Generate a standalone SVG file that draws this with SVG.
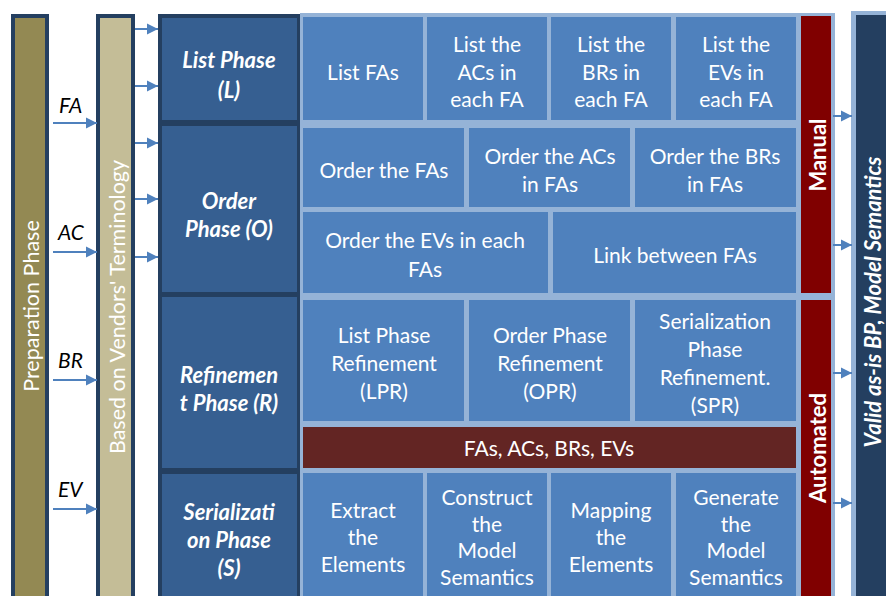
<svg xmlns="http://www.w3.org/2000/svg" width="886" height="596" viewBox="0 0 886 596">
<defs>
<style>
text{font-family:Lato,"Liberation Sans",sans-serif;}
.cell{fill:#4f81bd;}
.ct{font-size:21px;fill:#ffffff;text-anchor:middle;}
.ph{fill:#365f91;}
.pt{font-size:22px;fill:#ffffff;text-anchor:middle;font-weight:bold;font-style:italic;}
.dark{fill:#243f60;}
.light{fill:#95b3d7;}
.red{fill:#800000;}
.vt{font-size:21.5px;fill:#ffffff;text-anchor:middle;dominant-baseline:central;}
.vb{font-size:22px;fill:#ffffff;text-anchor:middle;dominant-baseline:central;font-weight:bold;}
.lab{font-size:21px;fill:#000000;font-style:italic;}
.conn line{stroke:#4f81bd;stroke-width:2;marker-end:url(#ah);}
</style>
<marker id="ah" viewBox="0 0 10 10" refX="10" refY="5" markerWidth="11" markerHeight="12" markerUnits="userSpaceOnUse" orient="auto">
<path d="M0,0 L10,5 L0,10 z" fill="#4f81bd"/>
</marker>
</defs>
<rect width="886" height="596" fill="#ffffff"/>

<g id="preparation">
<rect class="dark" x="11" y="14" width="38" height="590"/>
<rect x="15" y="18" width="30" height="590" fill="#938953"/>
<text class="vt" transform="translate(31,306) rotate(-90)">Preparation Phase</text>
</g>

<g id="vendors">
<rect class="dark" x="96" y="14" width="39" height="590"/>
<rect x="100" y="18" width="31" height="590" fill="#c4bd97"/>
<text class="vt" transform="translate(117,307) rotate(-90)">Based on Vendors' Terminology</text>
</g>

<g id="labels">
<text class="lab" x="59" y="113">FA</text>
<text class="lab" x="58" y="240">AC</text>
<text class="lab" x="58" y="368">BR</text>
<text class="lab" x="58" y="497">EV</text>
</g>

<g id="phases">
<rect class="dark" x="158" y="14" width="142" height="590"/>
<g id="list-phase">
<rect class="ph" x="162" y="18" width="135" height="102"/>
<text class="pt" x="229" y="68">List Phase</text>
<text class="pt" x="229" y="98">(L)</text>
</g>
<g id="order-phase">
<rect class="ph" x="162" y="126" width="135" height="166"/>
<text class="pt" x="229" y="209">Order</text>
<text class="pt" x="229" y="237">Phase (O)</text>
</g>
<g id="refinement-phase">
<rect class="ph" x="162" y="297" width="135" height="171"/>
<text class="pt" x="229" y="383">Refinemen</text>
<text class="pt" x="229" y="411">t Phase (R)</text>
</g>
<g id="serialization-phase">
<rect class="ph" x="162" y="474" width="135" height="130"/>
<text class="pt" x="229" y="520">Serializati</text>
<text class="pt" x="229" y="548">on Phase</text>
<text class="pt" x="229" y="576">(S)</text>
</g>
</g>

<g id="grid">
<rect class="light" x="300" y="13" width="535" height="590"/>
<g id="list-fas"><rect class="cell" x="303" y="17" width="120" height="103"/>
<text class="ct" x="363" y="80">List FAs</text></g>
<g id="list-acs"><rect class="cell" x="427" y="17" width="120" height="103"/>
<text class="ct" x="487" y="52">List the</text><text class="ct" x="487" y="80">ACs in</text><text class="ct" x="487" y="107">each FA</text></g>
<g id="list-brs"><rect class="cell" x="551" y="17" width="120" height="103"/>
<text class="ct" x="611" y="52">List the</text><text class="ct" x="611" y="80">BRs in</text><text class="ct" x="611" y="107">each FA</text></g>
<g id="list-evs"><rect class="cell" x="676" y="17" width="120" height="103"/>
<text class="ct" x="736" y="52">List the</text><text class="ct" x="736" y="80">EVs in</text><text class="ct" x="736" y="107">each FA</text></g>

<g id="order-fas"><rect class="cell" x="303" y="128" width="161" height="79"/>
<text class="ct" x="384" y="178">Order the FAs</text></g>
<g id="order-acs"><rect class="cell" x="469" y="128" width="161" height="79"/>
<text class="ct" x="550" y="164">Order the ACs</text><text class="ct" x="550" y="192">in FAs</text></g>
<g id="order-brs"><rect class="cell" x="635" y="128" width="161" height="79"/>
<text class="ct" x="715" y="164">Order the BRs</text><text class="ct" x="715" y="192">in FAs</text></g>
<g id="order-evs"><rect class="cell" x="303" y="212" width="245" height="81"/>
<text class="ct" x="425" y="248">Order the EVs in each</text><text class="ct" x="425" y="277">FAs</text></g>
<g id="link-fas"><rect class="cell" x="553" y="212" width="243" height="81"/>
<text class="ct" x="675" y="263">Link between FAs</text></g>

<g id="lpr"><rect class="cell" x="303" y="300" width="161" height="121"/>
<text class="ct" x="384" y="343">List Phase</text><text class="ct" x="384" y="371">Refinement</text><text class="ct" x="384" y="399">(LPR)</text></g>
<g id="opr"><rect class="cell" x="469" y="300" width="161" height="121"/>
<text class="ct" x="550" y="343">Order Phase</text><text class="ct" x="550" y="371">Refinement</text><text class="ct" x="550" y="399">(OPR)</text></g>
<g id="spr"><rect class="cell" x="635" y="300" width="161" height="121"/>
<text class="ct" x="715" y="329">Serialization</text><text class="ct" x="715" y="357">Phase</text><text class="ct" x="715" y="385">Refinement.</text><text class="ct" x="715" y="413">(SPR)</text></g>

<g id="elements-bar"><rect x="303" y="427" width="493" height="41" fill="#632523"/>
<text class="ct" x="549" y="456">FAs, ACs, BRs, EVs</text></g>

<g id="extract"><rect class="cell" x="303" y="473" width="120" height="130"/>
<text class="ct" x="363" y="518">Extract</text><text class="ct" x="363" y="545">the</text><text class="ct" x="363" y="572">Elements</text></g>
<g id="construct"><rect class="cell" x="427" y="473" width="120" height="130"/>
<text class="ct" x="487" y="505">Construct</text><text class="ct" x="487" y="532">the</text><text class="ct" x="487" y="558">Model</text><text class="ct" x="487" y="585">Semantics</text></g>
<g id="mapping"><rect class="cell" x="551" y="473" width="120" height="130"/>
<text class="ct" x="611" y="518">Mapping</text><text class="ct" x="611" y="545">the</text><text class="ct" x="611" y="572">Elements</text></g>
<g id="generate"><rect class="cell" x="676" y="473" width="120" height="130"/>
<text class="ct" x="736" y="505">Generate</text><text class="ct" x="736" y="532">the</text><text class="ct" x="736" y="558">Model</text><text class="ct" x="736" y="585">Semantics</text></g>
</g>

<g id="manual">
<rect class="red" x="801" y="16" width="30" height="277"/>
<text class="vb" transform="translate(817,155) rotate(-90)">Manual</text>
</g>
<g id="automated">
<rect class="red" x="801" y="300" width="30" height="300"/>
<text class="vb" transform="translate(817,448) rotate(-90)">Automated</text>
</g>

<g id="output">
<rect class="light" x="851" y="11" width="40" height="590"/>
<rect class="dark" x="856" y="15" width="35" height="590"/>
<text class="vb" font-size="23" font-style="italic" transform="translate(872,302) rotate(-90)">Valid as-is BP, Model Semantics</text>
</g>

<g id="connectors" class="conn">
<line x1="53" y1="123" x2="97" y2="123"/>
<line x1="53" y1="252" x2="97" y2="252"/>
<line x1="53" y1="380" x2="97" y2="380"/>
<line x1="53" y1="509" x2="97" y2="509"/>
<line x1="135" y1="29" x2="158" y2="29"/>
<line x1="135" y1="86" x2="158" y2="86"/>
<line x1="135" y1="143" x2="158" y2="143"/>
<line x1="135" y1="199" x2="158" y2="199"/>
<line x1="135" y1="257" x2="158" y2="257"/>
<line x1="833" y1="116" x2="852" y2="116"/>
<line x1="833" y1="245" x2="852" y2="245"/>
<line x1="833" y1="373" x2="852" y2="373"/>
<line x1="833" y1="503" x2="852" y2="503"/>
</g>
</svg>
